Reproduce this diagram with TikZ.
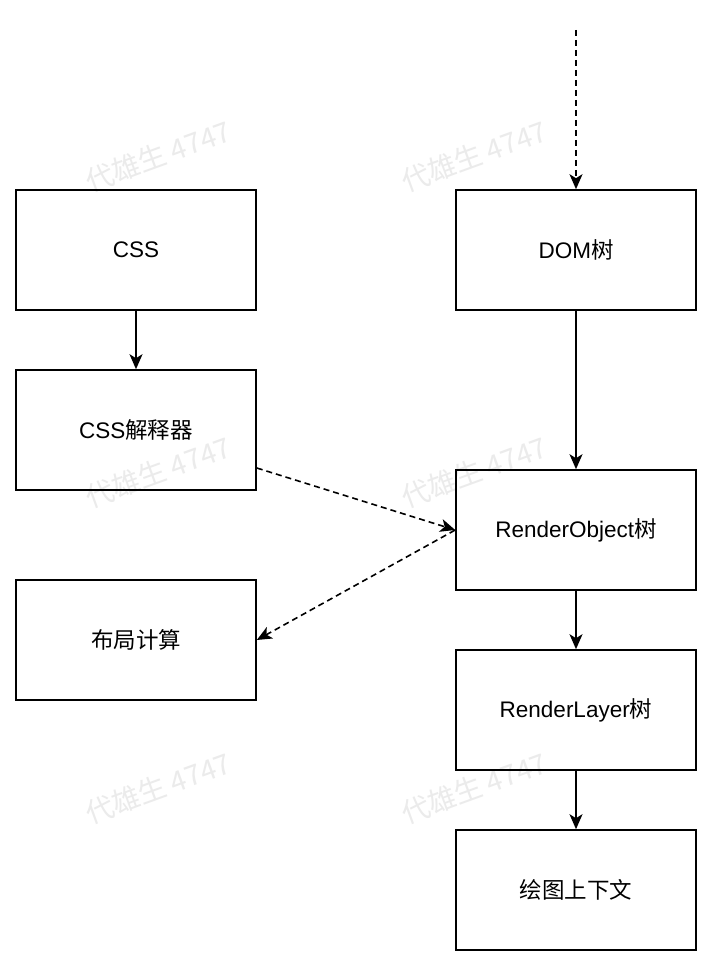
\documentclass[tikz,border=0pt]{standalone}
\usepackage{fontspec}
\setmainfont{Liberation Sans}
\newfontfamily\cjk{Noto Sans CJK SC}
\usetikzlibrary{arrows.meta}
\begin{document}
\begin{tikzpicture}[x=1pt,y=-1pt,
  box/.style={draw=black,line width=1.6pt,minimum width=240pt,minimum height=120pt,inner sep=0pt,font=\fontsize{22.5}{26}\selectfont},
  arr/.style={line width=1.6pt,-{Stealth[length=15pt,width=13pt,inset=4pt]}},
  darr/.style={arr,dash pattern=on 6pt off 4pt},
  wm/.style={text=black!8,font=\cjk\fontsize{28}{32}\selectfont,rotate=20}]
\useasboundingbox[fill=white] (0,0) rectangle (714,968);
\node[wm] (w1) at (158,156) {代雄生 4747};
\node[wm] (w2) at (474,156) {代雄生 4747};
\node[wm] (w3) at (158,472) {代雄生 4747};
\node[wm] (w4) at (474,472) {代雄生 4747};
\node[wm] (w5) at (158,788) {代雄生 4747};
\node[wm] (w6) at (474,788) {代雄生 4747};
\node[box] (css) at (136,250) {CSS};
\node[box] (cssp) at (136,430) {CSS{\cjk 解释器}};
\node[box] (lay) at (136,640) {{\cjk 布局计算}};
\node[box] (dom) at (576,250) {DOM{\cjk 树}};
\node[box] (ro) at (576,530) {RenderObject{\cjk 树}};
\node[box] (rl) at (576,710) {RenderLayer{\cjk 树}};
\node[box] (ctx) at (576,890) {{\cjk 绘图上下文}};
\coordinate (top) at (576,30);
\draw[darr] (top) -- (dom.north);
\draw[arr] (css) -- (cssp);
\draw[arr] (dom) -- (ro);
\draw[arr] (ro) -- (rl);
\draw[arr] (rl) -- (ctx);
\draw[darr] (cssp.east |- 0,468) -- (ro.west);
\draw[darr,{Stealth[length=15pt,width=13pt,inset=4pt]}-] (lay.east) -- (ro.west);
\end{tikzpicture}
\end{document}
